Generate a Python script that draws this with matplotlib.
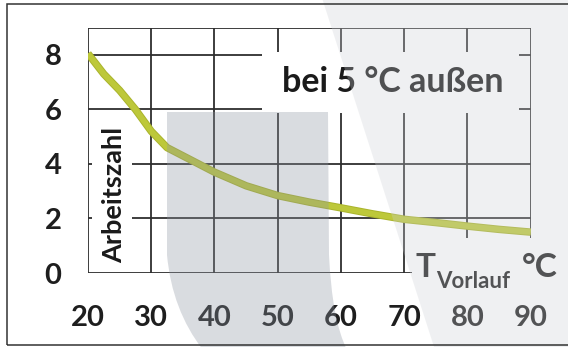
import matplotlib
matplotlib.use('Agg')
import matplotlib.pyplot as plt
from matplotlib.path import Path
from matplotlib.patches import PathPatch, Rectangle

plt.rcParams['font.family'] = ['Lato', 'DejaVu Sans']

# data
temps = [20, 22.5, 25, 27.5, 30, 32.5, 35, 37.5, 40, 45, 50, 55, 60, 65, 70, 75, 80, 85, 90]
cop = [8.05, 7.3, 6.7, 6.0, 5.2, 4.6, 4.3, 4.0, 3.7, 3.2, 2.84, 2.6, 2.39, 2.17, 1.97, 1.85, 1.72, 1.6, 1.5]
x_ticks = [20, 30, 40, 50, 60, 70, 80, 90]
y_ticks = [0, 2, 4, 6, 8]
y_top = 9

W, H = 568, 347
fig = plt.figure(figsize=(W / 100, H / 100), dpi=100)
fig.patch.set_facecolor('white')
ax = fig.add_axes([88 / W, 74 / H, 442.7 / W, 245.3 / H])
ax.set_xlim(20, 90)
ax.set_ylim(0, y_top)
ax.set_frame_on(False)
ax.patch.set_alpha(0)

# grid + frame, with gaps behind the text labels
def rect(x0, y0, x1, y1, cw=False):
    pts = [(x0, y0), (x1, y0), (x1, y1), (x0, y1)]
    if cw:
        pts = pts[::-1]
    return Path(pts + [pts[0]], [Path.MOVETO, Path.LINETO, Path.LINETO, Path.LINETO, Path.CLOSEPOLY])

clip = Path.make_compound_path(
    rect(0, -5, 110, 15),
    rect(47.5, 5.87, 88.2, 8.11, cw=True),
    rect(20.63, 0.3, 26.9, 5.3, cw=True),
    rect(71.2, -5, 110, 1.28, cw=True),
)
grid_kw = dict(colors='#2e2e2e', linewidth=1.3, capstyle='projecting', zorder=1)
vl = ax.vlines(x_ticks, 0, y_top, **grid_kw)
hl = ax.hlines(y_ticks + [y_top], 20, 90, **grid_kw)
for coll in (vl, hl):
    coll.set_clip_path(clip, ax.transData)

# curve
ax.plot(temps, cop, color='#aab42c', lw=5.4, solid_capstyle='butt', zorder=3)
ax.plot(temps, cop, color='#bdc83a', lw=4.0, solid_capstyle='butt', zorder=4)

ax.set_xticks(x_ticks)
ax.set_yticks(y_ticks)
ax.tick_params(length=0, labelsize=21, labelcolor='#1e1e1e')
ax.tick_params(axis='y', pad=19)
ax.tick_params(axis='x', pad=23)
for lab in ax.get_xticklabels() + ax.get_yticklabels():
    lab.set_fontweight('bold')

ax.text(50.7, 6.64, 'bei 5 °C außen', fontsize=24.5, fontweight='bold',
        color='#1a1a1a', ha='left', va='baseline', zorder=5)
ax.text(24.2, 0.35, 'Arbeitszahl', fontsize=19.5, fontweight='bold', rotation=90,
        color='#1a1a1a', ha='center', va='bottom', zorder=5)
ax.text(71.8, -0.15, 'T', fontsize=24, fontweight='bold', color='#1e1e1e',
        ha='left', va='baseline', clip_on=False)
ax.text(75.0, -0.55, 'Vorlauf', fontsize=16, fontweight='bold', color='#1e1e1e',
        ha='left', va='baseline', clip_on=False)
ax.text(88.6, -0.15, '°C', fontsize=24, fontweight='bold', color='#1e1e1e',
        ha='left', va='baseline', clip_on=False)

# watermark overlay (pixel coords from top left)
def fp(px, py):
    return (px / W, 1 - py / H)

bar = Path([fp(167, 112), fp(328, 112), fp(329, 255), fp(332, 320), fp(347, 350),
            fp(203, 350), fp(172, 310), fp(167, 255), fp(167, 112)],
           [Path.MOVETO, Path.LINETO, Path.LINETO, Path.CURVE3, Path.CURVE3,
            Path.LINETO, Path.CURVE3, Path.CURVE3, Path.CLOSEPOLY])
fig.patches.append(PathPatch(bar, transform=fig.transFigure, facecolor='#8e95a2',
                             edgecolor='none', alpha=0.33, zorder=10))
right = Path([fp(322, -2), fp(570, -2), fp(570, 350), fp(435, 350), fp(322, -2)],
             [Path.MOVETO, Path.LINETO, Path.LINETO, Path.LINETO, Path.CLOSEPOLY])
fig.patches.append(PathPatch(right, transform=fig.transFigure, facecolor='#cdd0d6',
                             edgecolor='none', alpha=0.3, zorder=10))

# outer frame
x0, y0 = fp(7, 345)
fig.patches.append(Rectangle((x0, y0), (575 - 7) / W, (345 - 4) / H, transform=fig.transFigure,
                             fill=False, edgecolor='#333333', linewidth=1.1, zorder=11))

fig.savefig('out.png', dpi=100)
